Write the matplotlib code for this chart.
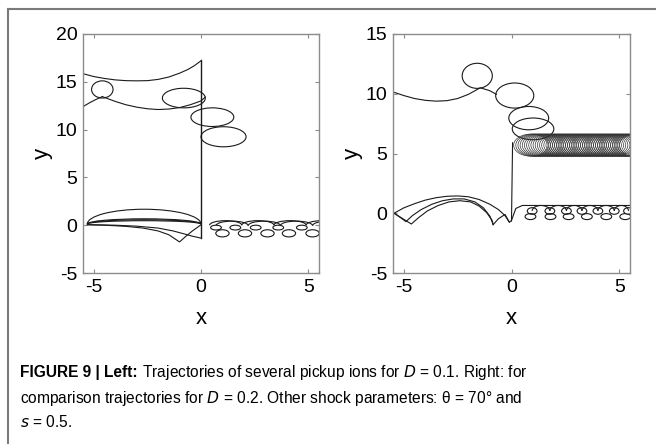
import matplotlib
matplotlib.use("Agg")
import matplotlib.pyplot as plt
from matplotlib.patches import Ellipse, Arc
from matplotlib.lines import Line2D

plt.rcParams['font.family'] = ['Liberation Sans', 'DejaVu Sans']
plt.rcParams['axes.unicode_minus'] = False
cap_font = ['Liberation Sans Narrow', 'Liberation Sans', 'DejaVu Sans']
plt.rcParams['mathtext.fontset'] = 'custom'
plt.rcParams['mathtext.rm'] = 'Liberation Sans Narrow'
plt.rcParams['mathtext.it'] = 'Liberation Sans Narrow:italic'

#left panel, D = 0.1
L_top_x = [-5.5, -5.0, -4.5, -4.0, -3.5, -3.0, -2.5, -2.0, -1.5, -1.0, -0.6, -0.3, 0.0]
L_top_y = [15.85, 15.55, 15.35, 15.2, 15.12, 15.1, 15.12, 15.25, 15.5, 15.9, 16.3, 16.7, 17.2]
L_shock_x = [0.0, 0.0]
L_shock_y = [-1.35, 17.3]
L_in_x = [-5.5, -5.2, -4.9, -4.6]
L_in_y = [12.4, 12.8, 13.15, 13.45]
L_mid_x = [-4.6, -4.3, -4.0, -3.5, -3.0, -2.5, -2.0, -1.5, -1.0, -0.5, 0.0, 0.2]
L_mid_y = [13.45, 13.2, 12.95, 12.6, 12.35, 12.18, 12.1, 12.15, 12.3, 12.6, 13.0, 13.4]
L_loop_x = [-4.6, -0.8, 0.53, 1.05]
L_loop_y = [14.2, 13.3, 11.3, 9.25]
L_loop_w = [1.0, 2.0, 2.0, 2.1]
L_loop_h = [1.8, 2.05, 1.95, 2.1]
L_loop_a = [0, 10, 5, 0]

L_arc_h = [3.1, 1.1, 0.9, 0.7]   # arcs from x=-5.3 to x=0
L_c1_x = [-5.3, -4.5, -3.5, -2.7, -2.0, -1.5, -1.0, -0.7, -0.4, -0.15, 0.0]
L_c1_y = [0.05, 0.0, -0.12, -0.3, -0.6, -1.0, -1.75, -1.15, -0.6, -0.2, 0.05]
L_c2_x = [-5.3, -4.0, -3.0, -2.0, -1.3, -0.8, -0.4, 0.0]
L_c2_y = [0.05, 0.0, -0.1, -0.3, -0.6, -0.9, -1.15, -1.35]

L_hump_x = [1.15, 2.65, 4.15, 5.65, 1.45, 2.95, 4.45, 5.95]
L_hump_y = [0.0, 0.0, 0.0, 0.0, -0.05, -0.05, -0.05, -0.05]
L_lo_x = [1.0, 2.05, 3.1, 4.1, 5.2]
L_up_x = [0.7, 1.6, 2.55, 3.6, 4.7]

#right panel, D = 0.2
R_in_x = [-5.5, -5.0, -4.5, -4.0, -3.5, -3.0, -2.5, -2.0, -1.7, -1.45, -1.0, -0.7]
R_in_y = [10.15, 9.85, 9.6, 9.45, 9.38, 9.42, 9.6, 9.95, 10.25, 10.5, 10.25, 9.95]
R_loop_x = [-1.59, 0.15, 0.8, 1.0]
R_loop_y = [11.5, 9.85, 7.96, 7.06]
R_loop_w = [1.4, 1.77, 1.85, 1.93]
R_loop_h = [2.1, 2.1, 1.95, 1.82]
R_shock_x = [0.0, 0.05]
R_shock_y = [-0.65, 5.9]
R_band_x = [0.9, 1.0, 1.1, 1.2, 1.3, 1.4, 1.5, 1.6, 1.7, 1.8, 1.9, 2.0, 2.1, 2.2,
            2.3, 2.4, 2.5, 2.6, 2.7, 2.8, 2.9, 3.0, 3.1, 3.2, 3.3, 3.4, 3.5, 3.6,
            3.7, 3.8, 3.9, 4.0, 4.1, 4.2, 4.3, 4.4, 4.5, 4.6, 4.7, 4.8, 4.9, 5.0,
            5.1, 5.2, 5.3, 5.4, 5.5, 5.6, 5.7, 5.8]
R_band_y = 5.7

R_a1_x = [-5.45, -5.0, -4.5, -4.0, -3.5, -3.0, -2.5, -2.0, -1.5, -1.0, -0.6, -0.3, -0.1]
R_a1_y = [0.0, 0.45, 0.8, 1.1, 1.3, 1.42, 1.45, 1.38, 1.15, 0.75, 0.3, -0.2, -0.75]
R_a2_x = [-5.45, -5.2, -4.9, -4.6, -4.2, -3.7, -3.2, -2.7, -2.2, -1.7, -1.3, -1.0, -0.85]
R_a2_y = [0.0, -0.3, -0.7, -0.2, 0.3, 0.75, 1.05, 1.2, 1.2, 0.95, 0.45, -0.25, -0.95]
R_a3_x = [-5.45, -5.05, -4.65, -4.3, -3.9, -3.4, -2.9, -2.4, -1.9, -1.5, -1.15, -0.9, -0.85]
R_a3_y = [0.0, -0.45, -0.9, -0.35, 0.2, 0.65, 0.95, 1.05, 0.95, 0.6, 0.05, -0.6, -0.95]
R_a4_x = [-0.85, -0.6, -0.3, -0.1, 0.0, 0.2, 0.5, 5.5]
R_a4_y = [-0.95, -0.45, -0.1, -0.75, -0.6, 0.4, 0.65, 0.65]
R_up_x = [0.96, 1.78, 2.55, 3.27, 4.01, 4.77, 5.43]
R_lo_x = [0.88, 1.81, 2.65, 3.5, 4.4, 5.28]

lc = '#1a1a1a'
gray = '#8c8c8c'

fig = plt.figure(figsize=(6.56, 4.44), dpi=100)
axL = fig.add_axes([83/656, 1-273/444, 236/656, 239/444])
axR = fig.add_axes([393/656, 1-273/444, 237/656, 239/444])

def ell(ax, x, y, w, h, a=0, lw=0.8, c=lc):
    ax.add_patch(Ellipse((x, y), w, h, angle=a, fill=False, ec=c, lw=lw))

def arc(ax, x, y, w, h, lw=0.8):
    ax.add_patch(Arc((x, y), w, h, theta1=0, theta2=180, ec=lc, lw=lw))

# left
axL.plot(L_top_x, L_top_y, color=lc, lw=0.8)
axL.plot(L_shock_x, L_shock_y, color=lc, lw=1.0)
axL.plot(L_in_x, L_in_y, color=lc, lw=0.8)
axL.plot(L_mid_x, L_mid_y, color=lc, lw=0.8)
for i in range(len(L_loop_x)):
    ell(axL, L_loop_x[i], L_loop_y[i], L_loop_w[i], L_loop_h[i], L_loop_a[i])
for h in L_arc_h:
    arc(axL, -2.65, 0.12, 5.3, h)
axL.plot(L_c1_x, L_c1_y, color=lc, lw=0.8)
axL.plot(L_c2_x, L_c2_y, color=lc, lw=0.8)
for x, y in zip(L_hump_x, L_hump_y):
    arc(axL, x, y, 1.5, 0.95)
for x in L_lo_x:
    ell(axL, x, -0.85, 0.62, 0.75)
for x in L_up_x:
    ell(axL, x, -0.25, 0.5, 0.5)

# right
axR.plot(R_in_x, R_in_y, color=lc, lw=0.8)
for i in range(len(R_loop_x)):
    ell(axR, R_loop_x[i], R_loop_y[i], R_loop_w[i], R_loop_h[i])
axR.plot(R_shock_x, R_shock_y, color=lc, lw=0.8)
for x in R_band_x:
    ell(axR, x, R_band_y, 1.6, 1.85, lw=0.5, c='#333333')
for xs, ys in [(R_a1_x, R_a1_y), (R_a2_x, R_a2_y), (R_a3_x, R_a3_y), (R_a4_x, R_a4_y)]:
    axR.plot(xs, ys, color=lc, lw=0.8)
for i in range(len(R_up_x) - 1):
    arc(axR, (R_up_x[i] + R_up_x[i+1]) / 2, 0.2, R_up_x[i+1] - R_up_x[i], 0.9)
for x in R_up_x:
    ell(axR, x, 0.19, 0.45, 0.55)
for x in R_lo_x:
    ell(axR, x, -0.28, 0.5, 0.5)

for ax, ylim in [(axL, (-5, 20)), (axR, (-5, 15))]:
    ax.set_xlim(-5.5, 5.5)
    ax.set_ylim(*ylim)
    ax.set_xticks([-5, 0, 5])
    ax.set_yticks(range(ylim[0], ylim[1] + 1, 5))
    ax.tick_params(direction='in', top=True, right=True, length=3, color=gray,
                   labelsize=14, pad=4)
    for s in ax.spines.values():
        s.set_color(gray)
        s.set_linewidth(1.0)
    ax.set_xlabel('x', fontsize=16, labelpad=9)
    ax.set_ylabel('y', fontsize=16, labelpad=2)

# outer frame (top and left)
fig.add_artist(Line2D([8/656, 1], [1-9/444, 1-9/444], transform=fig.transFigure, color='#7a7a7a', lw=1.5))
fig.add_artist(Line2D([8/656, 8/656], [0, 1-9/444], transform=fig.transFigure, color='#7a7a7a', lw=1.5))

# caption
fs = 11.2
x0 = 20/656
t1 = fig.text(x0, 1-377/444, 'FIGURE 9 | Left:', family=cap_font, weight='bold', size=fs, va='baseline')
fig.canvas.draw()
bb = t1.get_window_extent()
fig.text(bb.x1/656, 1-377/444, ' Trajectories of several pickup ions for $D$ = 0.1. Right: for',
         family=cap_font, size=fs, va='baseline')
fig.text(x0, 1-403/444, 'comparison trajectories for $D$ = 0.2. Other shock parameters: \u03b8 = 70\u00b0 and',
         family=cap_font, size=fs, va='baseline')
fig.text(x0, 1-427/444, '$s$ = 0.5.', family=cap_font, size=fs, va='baseline')

fig.savefig('out.png', dpi=100)
